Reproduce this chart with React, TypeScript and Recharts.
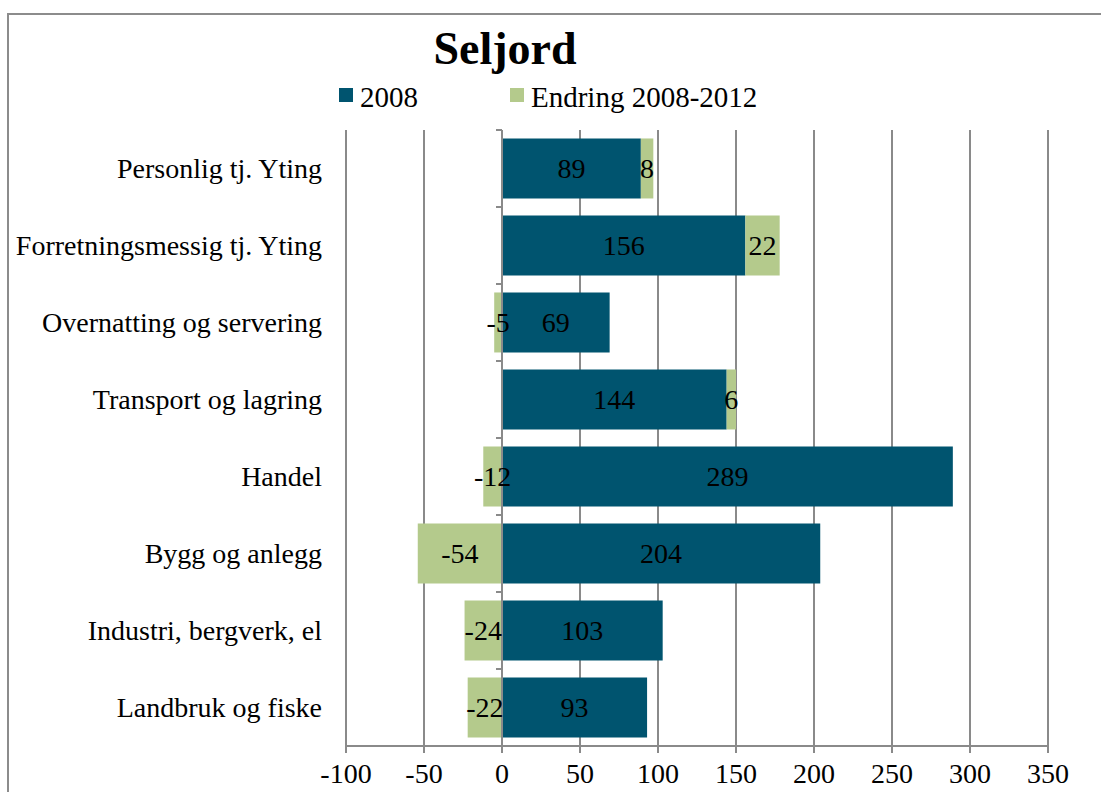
import { BarChart, Bar, XAxis, YAxis, CartesianGrid, ReferenceLine, LabelList } from 'recharts';

const categories = [
  'Personlig tj. Yting',
  'Forretningsmessig tj. Yting',
  'Overnatting og servering',
  'Transport og lagring',
  'Handel',
  'Bygg og anlegg',
  'Industri, bergverk, el',
  'Landbruk og fiske',
];
const values2008 = [89, 156, 69, 144, 289, 204, 103, 93];
const endring = [8, 22, -5, 6, -12, -54, -24, -22];
const xTicks = [-100, -50, 0, 50, 100, 150, 200, 250, 300, 350];

const DARK = '#00546F';
const GREEN = '#B4CA8C';
const GRID = '#8A8A8A';
const FONT = '"Liberation Serif", "Times New Roman", serif';

const data = categories.map((name, i) => ({ name, v2008: values2008[i], endring: endring[i] }));

// y-axis drawn at zero, with small ticks between categories (excel style)
function ZeroAxis(props: any) {
  const { x1, y1, x2, y2 } = props;
  const n = categories.length;
  const step = (y2 - y1) / n;
  return (
    <g>
      <line x1={x1} y1={y1} x2={x2} y2={y2} stroke={GRID} strokeWidth={2} />
      {Array.from({ length: n + 1 }, (_, i) => (
        <line key={i} x1={x1 - 6} x2={x1} y1={y1 + i * step} y2={y1 + i * step} stroke={GRID} strokeWidth={2} />
      ))}
    </g>
  );
}

export default function App() {
  return (
    <div style={{ position: 'absolute', left: 0, top: 0, width: 1101, height: 792, overflow: 'hidden', background: '#fff', fontFamily: FONT }}>
      <div style={{ position: 'absolute', left: 7, top: 13, width: 1200, height: 900, border: '2px solid #8C8C8C' }} />
      <div style={{ position: 'absolute', left: 305, top: 26, width: 400, textAlign: 'center', fontSize: 46, lineHeight: '46px', fontWeight: 'bold', color: '#000' }}>
        Seljord
      </div>
      <div style={{ position: 'absolute', left: 339, top: 88, width: 14, height: 14, background: DARK }} />
      <div style={{ position: 'absolute', left: 360, top: 83, fontSize: 29, lineHeight: '29px', color: '#000' }}>2008</div>
      <div style={{ position: 'absolute', left: 510, top: 88, width: 14, height: 14, background: GREEN }} />
      <div style={{ position: 'absolute', left: 531, top: 83, fontSize: 29, lineHeight: '29px', color: '#000' }}>Endring 2008-2012</div>
      <div style={{ position: 'absolute', left: 0, top: 0 }}>
        <BarChart
          width={1101}
          height={792}
          data={data}
          layout="vertical"
          stackOffset="sign"
          barCategoryGap="11%"
          margin={{ top: 130, right: 53, bottom: 6, left: 0 }}
          style={{ fontFamily: FONT }}
        >
          <CartesianGrid horizontal={false} stroke={GRID} strokeWidth={2} />
          <XAxis
            type="number"
            domain={[-100, 350]}
            ticks={xTicks}
            interval={0}
            height={40}
            axisLine={{ stroke: GRID, strokeWidth: 2 }}
            tickLine={{ stroke: GRID, strokeWidth: 2 }}
            tickSize={7}
            tickMargin={10}
            tick={{ fill: '#000', fontSize: 28 }}
          />
          <YAxis
            type="category"
            dataKey="name"
            width={346}
            axisLine={false}
            tickLine={false}
            tickSize={0}
            tickMargin={24}
            tick={{ fill: '#000', fontSize: 28 }}
          />
          <Bar dataKey="v2008" stackId="a" fill={DARK} isAnimationActive={false}>
            <LabelList dataKey="v2008" position="center" fill="#000" fontSize={28} />
          </Bar>
          <Bar dataKey="endring" stackId="a" fill={GREEN} isAnimationActive={false}>
            <LabelList dataKey="endring" position="center" fill="#000" fontSize={28} />
          </Bar>
          <ReferenceLine x={0} shape={<ZeroAxis />} />
        </BarChart>
      </div>
    </div>
  );
}
